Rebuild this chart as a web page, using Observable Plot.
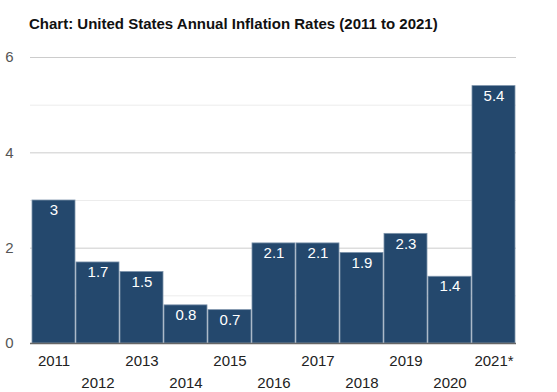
<!DOCTYPE html>
<html>
<head>
<meta charset="utf-8">
<script src="https://cdn.jsdelivr.net/npm/d3@7"></script>
<script src="https://cdn.jsdelivr.net/npm/@observablehq/plot@0.6"></script>
<style>
  body { margin: 0; background: #fff; }
  #wrap { position: relative; width: 557px; height: 392px; }
  #title { position: absolute; left: 29px; top: 15px; font: bold 15px "Liberation Sans", Arial, sans-serif; color: #111; white-space: nowrap; }
  #chart { position: absolute; left: 0; top: 0; }
</style>
</head>
<body>
<div id="wrap">
  <div id="chart"></div>
  <div id="title">Chart: United States Annual Inflation Rates (2011 to 2021)</div>
</div>
<script>
const years = ["2011","2012","2013","2014","2015","2016","2017","2018","2019","2020","2021*"];
const rates = [3, 1.7, 1.5, 0.8, 0.7, 2.1, 2.1, 1.9, 2.3, 1.4, 5.4];
const yMajorTicks = [0, 2, 4, 6];
const yMinorTicks = [1, 3, 5];

const data = years.map((y, i) => ({year: y, rate: rates[i]}));
const row1 = years.filter((_, i) => i % 2 === 0);
const row2 = years.filter((_, i) => i % 2 === 1);

const plot = Plot.plot({
  width: 557,
  height: 392,
  marginTop: 57,
  marginBottom: 49,
  marginLeft: 30,
  marginRight: 41,
  style: {fontFamily: '"Liberation Sans", Arial, sans-serif', fontSize: "15px", background: "transparent"},
  x: {domain: years, paddingInner: 0.03, paddingOuter: 0},
  y: {domain: [0, 6]},
  marks: [
    Plot.ruleY(yMinorTicks, {stroke: "#ececec", strokeWidth: 1}),
    Plot.ruleY(yMajorTicks.filter(d => d > 0), {stroke: "#cccccc", strokeWidth: 1}),
    Plot.barY(data, {x: "year", y: "rate", fill: "#24486d", stroke: "#7d93ab", strokeWidth: 0.8}),
    Plot.text(data, {x: "year", y: "rate", text: d => String(d.rate), fill: "white", lineAnchor: "top", dy: 4, fontSize: 15}),
    Plot.ruleY([0], {stroke: "#666", strokeWidth: 1.5}),
    Plot.axisY({ticks: yMajorTicks, tickFormat: d3.format("d"), tickSize: 0, tickPadding: 17, textAnchor: "end", fill: "#555", fontSize: 15, label: null}),
    Plot.axisX({ticks: row1, tickSize: 0, tickPadding: 12, fill: "#222", fontSize: 15, label: null}),
    Plot.axisX({ticks: row2, tickSize: 0, tickPadding: 34, fill: "#222", fontSize: 15, label: null})
  ]
});
document.getElementById("chart").appendChild(plot);
</script>
</body>
</html>
